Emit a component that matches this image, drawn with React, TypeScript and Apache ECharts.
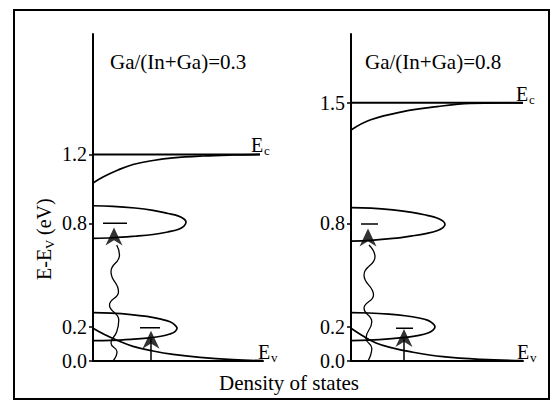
import React, { useEffect, useRef } from "react";
import * as echarts from "echarts";

type P = [number, number];

// Tick labels (eV)
const leftTicks = [0, 0.2, 0.8, 1.2];
const rightTicks = [0, 0.2, 0.8, 1.5];
const yMax = 1.9;
const panelTitles = ["Ga/(In+Ga)=0.3", "Ga/(In+Ga)=0.8"];

// Conduction band edge
const leftEc: P[] = [[0, 1.2], [167, 1.2]];
const rightEc: P[] = [[0, 1.5], [172, 1.5]];

// Conduction band tails
const leftCbTail: P[] = [[0, 1.034], [10, 1.069], [25, 1.11], [40, 1.142], [60, 1.165], [80, 1.18], [110, 1.191], [140, 1.197], [167, 1.2]];
const rightCbTail: P[] = [[0, 1.342], [19, 1.4], [52, 1.449], [86, 1.478], [119, 1.497], [152, 1.5], [172, 1.5]];

// Deep defect bands (~0.8 eV)
const leftDeep: P[] = [[0, 0.902], [20, 0.899], [42, 0.889], [60, 0.875], [75, 0.857], [85, 0.843], [91, 0.825], [93, 0.808], [91, 0.784], [85, 0.764], [75, 0.75], [60, 0.735], [42, 0.725], [20, 0.716], [0, 0.713]];
const rightDeep: P[] = [[0, 0.891], [20, 0.888], [42, 0.878], [61, 0.864], [76, 0.846], [86, 0.831], [92, 0.813], [94, 0.794], [92, 0.775], [86, 0.757], [76, 0.742], [61, 0.727], [42, 0.712], [20, 0.701], [0, 0.697]];

// Shallow acceptor bands (~0.2 eV)
const leftShallow: P[] = [[0, 0.281], [18, 0.278], [38, 0.27], [54, 0.259], [68, 0.243], [77, 0.228], [82, 0.209], [84, 0.19], [82, 0.171], [77, 0.157], [68, 0.144], [54, 0.133], [38, 0.126], [18, 0.12], [0, 0.118]];
const rightShallow: P[] = [[0, 0.281], [18, 0.279], [38, 0.272], [54, 0.263], [68, 0.25], [77, 0.236], [82, 0.217], [84, 0.199], [82, 0.18], [77, 0.163], [68, 0.149], [54, 0.137], [38, 0.128], [18, 0.121], [0, 0.118]];

// Valence band tails
const leftVbTail: P[] = [[0, 0.19], [12, 0.152], [25, 0.118], [40, 0.085], [60, 0.058], [80, 0.038], [107, 0.021], [140, 0.008], [170, 0.002]];
const rightVbTail: P[] = [[0, 0.19], [12, 0.145], [25, 0.105], [40, 0.078], [59, 0.054], [92, 0.025], [130, 0.009], [172, 0.002]];

// Level dashes
const leftDashes: P[][] = [[[10, 0.8], [34, 0.8]], [[47, 0.193], [67, 0.193]]];
const rightDashes: P[][] = [[[10, 0.796], [27, 0.796]], [[45, 0.19], [62, 0.19]]];

// Wavy (photon) lines
const leftWave: P[] = [[23.7, 0.674], [26.5, 0.616], [18, 0.519], [25.5, 0.403], [16.5, 0.325], [25.8, 0.238], [23.7, 0.17], [18, 0.103], [24, 0.054], [20, 0]];
const rightWave: P[] = [[18, 0.674], [24, 0.606], [13, 0.5], [22.5, 0.383], [13, 0.306], [20.8, 0.228], [15, 0.132], [20.8, 0.074], [17, 0]];

// Straight arrows
const leftArrow: P[] = [[58, 0], [58, 0.13]];
const rightArrow: P[] = [[53, 0], [53, 0.13]];

// Arrow heads (centers)
const leftHeads: P[] = [[21, 0.723], [58, 0.123]];
const rightHeads: P[] = [[17, 0.718], [53, 0.134]];

const FONT = "Liberation Serif";
const HEAD = "path://M8,0 L16,17 L8,12 L0,17 Z";

export default function App() {
  const ref = useRef<HTMLDivElement>(null);
  useEffect(() => {
    if (!ref.current) return;
    const chart = echarts.init(ref.current, undefined, { renderer: "svg" });

    const line = (data: P[], xi: number, smooth: boolean | number = 0.4, w = 1.7) => ({
      type: "line",
      xAxisIndex: xi,
      yAxisIndex: xi,
      data,
      smooth,
      showSymbol: false,
      symbol: "none",
      lineStyle: { color: "#000", width: w },
      silent: true,
      z: 3,
    });
    const heads = (data: P[], xi: number) => ({
      type: "scatter",
      xAxisIndex: xi,
      yAxisIndex: xi,
      data,
      symbol: HEAD,
      symbolSize: [17, 18],
      itemStyle: { color: "#000" },
      silent: true,
      z: 5,
    });

    const yAxis = (i: number, ticks: number[]) => ({
      type: "value",
      gridIndex: i,
      min: 0,
      max: yMax,
      axisLine: { show: true, lineStyle: { color: "#000", width: 2 } },
      axisTick: { show: true, length: 4, customValues: ticks, lineStyle: { color: "#000", width: 1.5 } },
      axisLabel: {
        show: true,
        customValues: ticks,
        margin: 6,
        color: "#000",
        fontFamily: FONT,
        fontSize: 20,
        formatter: (v: number) => v.toFixed(1),
      },
      splitLine: { show: false },
    });
    const xAxis = (i: number, max: number) => ({
      type: "value",
      gridIndex: i,
      min: 0,
      max,
      axisLine: { show: true, onZero: false, lineStyle: { color: "#000", width: 2 } },
      axisTick: { show: false },
      axisLabel: { show: false },
      splitLine: { show: false },
    });

    const txt = (x: number, y: number, text: string, size = 20, extra: any = {}) => ({
      type: "text",
      x,
      y,
      style: { text, fontFamily: FONT, fontSize: size, fill: "#000", verticalAlign: "middle", ...extra },
    });
    const sub = (x: number, y: number, main: string, s: string) => [txt(x, y, main), txt(x + 13, y + 5, s, 13)];

    chart.setOption({
      animation: false,
      backgroundColor: "#fff",
      grid: [
        { left: 93, top: 34, width: 170, height: 327 },
        { left: 351, top: 34, width: 172, height: 327 },
      ],
      xAxis: [xAxis(0, 170), xAxis(1, 172)],
      yAxis: [yAxis(0, leftTicks), yAxis(1, rightTicks)],
      series: [
        line(leftEc, 0, false, 2),
        line(leftCbTail, 0),
        line(leftDeep, 0),
        line(leftShallow, 0),
        line(leftVbTail, 0),
        ...leftDashes.map((d) => line(d, 0, false, 1.5)),
        line(leftWave, 0, 0.5, 1.3),
        line(leftArrow, 0, false, 1.5),
        heads(leftHeads, 0),
        line(rightEc, 1, false, 2),
        line(rightCbTail, 1),
        line(rightDeep, 1),
        line(rightShallow, 1),
        line(rightVbTail, 1),
        ...rightDashes.map((d) => line(d, 1, false, 1.5)),
        line(rightWave, 1, 0.5, 1.3),
        line(rightArrow, 1, false, 1.5),
        heads(rightHeads, 1),
      ],
      graphic: [
        { type: "rect", shape: { x: 14, y: 10, width: 535, height: 389 }, style: { fill: "none", stroke: "#000", lineWidth: 2 }, z: 0 },
        txt(110, 62, panelTitles[0], 21),
        txt(365, 62, panelTitles[1], 21),
        ...sub(251, 145, "E", "c"),
        ...sub(516, 94, "E", "c"),
        ...sub(258, 352, "E", "v"),
        ...sub(517, 352, "E", "v"),
        txt(289, 383, "Density of states", 21, { align: "center" }),
        {
          type: "group",
          x: 44,
          y: 238,
          rotation: Math.PI / 2,
          children: [
            txt(-42, 0, "E-E"),
            txt(-11, 5, "V", 13),
            txt(-2, 0, " (eV)"),
          ],
        },
      ],
    });
    return () => chart.dispose();
  }, []);
  return <div ref={ref} style={{ width: 551, height: 403, position: "absolute", left: 0, top: 0 }} />;
}
